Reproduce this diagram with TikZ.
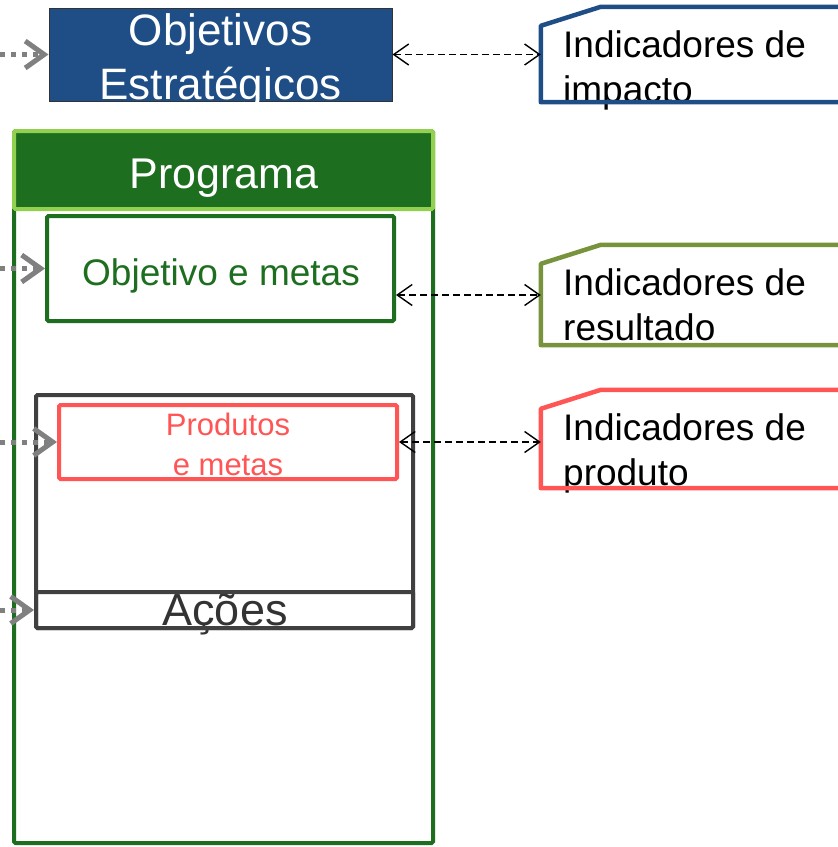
\documentclass[tikz,border=0pt]{standalone}
\usepackage{fontspec}
\setmainfont{Liberation Sans}
\usepackage{tikz}
\usetikzlibrary{arrows.meta,math}
\definecolor{EstBlue}{RGB}{31,78,135}
\definecolor{ProgGreen}{RGB}{30,110,32}
\definecolor{ProgLight}{RGB}{146,208,80}
\definecolor{ResOlive}{RGB}{119,147,60}
\definecolor{ProdRed}{RGB}{255,85,85}
\definecolor{AcaoGray}{RGB}{64,64,64}
\tikzset{%
  plain box/.style={rectangle, inner sep=0pt, line width=4pt, rounded corners=1.5pt},
  ind box/.style={rectangle, inner sep=0pt, minimum width=329pt},
  ind frame/.style={line width=4.5pt, line join=round},
  ind text/.style={font=\fontsize{37}{45}\selectfont, align=left, inner sep=0pt},
  feed arrow/.style={line width=5pt, color=gray, dash pattern=on 5pt off 6pt,
    -{Straight Barb[length=19pt,width=27pt]}},
  link arrow/.style={line width=1.4pt, dash pattern=on 7pt off 4pt,
    {Straight Barb[length=15pt,width=21pt]}-{Straight Barb[length=15pt,width=21pt]}}
}

\begin{document}
\begin{tikzpicture}[x=1pt,y=-1pt]
    \tikzmath{
      \xind=541; % left edge of indicator boxes
      \chw=60; % chamfer width
      \chh=19; % chamfer height
    }
    \useasboundingbox (0,0) rectangle (838,847);
    \coordinate (leftedge) at (0,0);
    % strategic objectives
    \node[rectangle, inner sep=0pt, fill=EstBlue, draw=black!80, line width=1pt,
      minimum width=343pt, minimum height=93pt] (objest) at (220.5,54.5) {};
    \node[font=\fontsize{44}{54}\selectfont, text=white, align=center, anchor=base]
      (objest-txt) at (220.5,99) {Objetivos\\Estratégicos}; % base = last line
    % program
    \node[plain box, draw=ProgGreen, fill=white, minimum width=419pt, minimum height=712pt]
      (prog) at (223.5,487) {};
    \node[plain box, draw=ProgLight, fill=ProgGreen, minimum width=419pt, minimum height=78pt]
      (proghead) at (223.5,170) {};
    \node[font=\fontsize{43}{50}\selectfont, text=white, anchor=base]
      (proghead-txt) at (224,188) {Programa};
    \node[plain box, draw=ProgGreen, fill=white, minimum width=347pt, minimum height=105pt]
      (objmet) at (220.5,268.5) {};
    \node[font=\fontsize{37}{44}\selectfont, text=ProgGreen, anchor=base]
      (objmet-txt) at (221,285) {Objetivo e metas};
    \begin{scope} % products and actions
      \node[font=\fontsize{31}{40}\selectfont, text=ProdRed, align=center, anchor=base]
        (prod-txt) at (228,475) {Produtos\\e metas};
      \node[font=\fontsize{45}{50}\selectfont, text=AcaoGray!80!black, anchor=base]
        (acoes-txt) at (225,625) {Ações};
      \node[plain box, draw=AcaoGray, minimum width=377pt, minimum height=233pt]
        (prodacoes) at (224.5,511.5) {};
      \node[plain box, draw=AcaoGray, minimum width=377pt, minimum height=36pt]
        (acoes) at (224.5,610) {};
      \node[plain box, draw=ProdRed, minimum width=338pt, minimum height=74pt]
        (prod) at (228,442) {};
    \end{scope}
    % indicators
    \foreach \nm/\col/\ya/\yb/\word in {indimp/EstBlue/7/102/impacto,
        indres/ResOlive/245/345/resultado, indprod/ProdRed/390/488/produto} {
      \node[ind box, minimum height={(\yb-\ya)*1pt}] (\nm) at ({\xind+164.5},{(\ya+\yb)/2}) {};
      \node[ind text, anchor=base west] (\nm-txt) at (563,{\ya+95}) {Indicadores de\\\word};
      \draw[ind frame, draw=\col] (\nm.south west) -- ([yshift=-\chh pt]\nm.north west)
        -- ([xshift=\chw pt]\nm.north west) -- (\nm.north east) -- (\nm.south east) -- cycle;
    }
    % connectors
    \draw[link arrow] (objest.east) -- (objest.east -| indimp.west);
    \draw[link arrow] (indres.west -| objmet.east) -- (indres.west);
    \draw[link arrow] (prod.east) -- (prod.east -| indprod.west);
    \foreach \tgt in {objest, objmet, prod, acoes} {
      \draw[feed arrow] (\tgt.west -| leftedge) -- (\tgt.west);
    }
  \end{tikzpicture}
\end{document}
